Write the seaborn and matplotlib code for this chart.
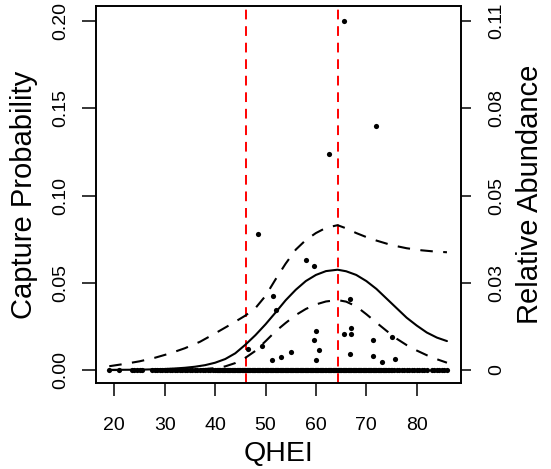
import matplotlib
matplotlib.use("Agg")
import matplotlib.pyplot as plt
import seaborn as sns
import pandas as pd

sns.set_style("ticks")
plt.rcParams['font.family'] = ['Liberation Sans', 'DejaVu Sans']
plt.rcParams['text.color'] = 'black'
plt.rcParams['axes.labelcolor'] = 'black'
plt.rcParams['xtick.color'] = 'black'
plt.rcParams['ytick.color'] = 'black'

# Observed sites with capture (QHEI, capture probability scale)
pos_qhei = [65.6, 72.0, 62.5, 48.6, 58.0, 59.6, 51.5, 66.7, 52.0, 60.1, 67.0, 65.5,
            67.0, 59.6, 71.4, 75.0, 46.5, 49.4, 60.6, 55.1, 53.0, 51.3, 60.1, 66.7,
            71.4, 73.1, 75.6]
pos_val = [0.200, 0.140, 0.124, 0.0781, 0.0632, 0.0596, 0.0424, 0.0409, 0.0346, 0.0225,
           0.0239, 0.0204, 0.0204, 0.0174, 0.0172, 0.0187, 0.0119, 0.0138, 0.0115, 0.0105,
           0.0074, 0.0057, 0.0057, 0.0090, 0.0080, 0.0044, 0.0063]

# Sites with no capture
zero_qhei = [19, 21, 23.5, 24, 24.5, 25, 25.5, 27.5, 28, 28.5, 29, 29.5, 30, 30.5, 31,
             31.5, 32, 32.5, 33, 33.5, 34, 34.5, 35, 35.5, 36, 36.5, 37, 37.5, 38, 38.5,
             39, 39.5, 40, 40.3, 40.5, 40.8, 41, 41.3, 41.5, 41.8, 42, 42.3, 42.5, 42.8,
             43, 43.3, 43.5, 43.8, 44, 44.3, 44.5, 44.8, 45, 45.3, 45.5, 45.8, 46, 46.3,
             46.5, 46.8, 47, 47.3, 47.5, 47.8, 48, 48.3, 48.5, 48.8, 49, 49.3, 49.5, 49.8,
             50, 50.3, 50.5, 50.8, 51, 51.3, 51.5, 51.8, 52, 52.3, 52.5, 52.8, 53, 53.3,
             53.5, 53.8, 54, 54.3, 54.5, 54.8, 55, 55.3, 55.5, 55.8, 56, 56.3, 56.5, 56.8,
             57, 57.3, 57.5, 57.8, 58, 58.3, 58.5, 58.8, 59, 59.3, 59.5, 59.8, 60, 60.3,
             60.5, 60.8, 61, 61.3, 61.5, 61.8, 62, 62.3, 62.5, 62.8, 63, 63.3, 63.5, 63.8,
             64, 64.3, 64.5, 64.8, 65, 65.3, 65.5, 65.8, 66, 66.3, 66.5, 66.8, 67, 67.3,
             67.5, 67.8, 68, 68.3, 68.5, 68.8, 69, 69.3, 69.5, 69.8, 70, 70.3, 70.5, 70.8,
             71, 71.3, 71.5, 71.8, 72, 72.3, 72.5, 72.8, 73, 73.3, 73.5, 73.8, 74, 74.3,
             74.5, 74.8, 75, 75.5, 76, 76.5, 77, 77.5, 78, 78.5, 79, 79.5, 80, 80.5, 81,
             81.5, 82, 83, 83.5, 84, 84.5, 85, 85.5, 86]

# Fitted curve and confidence bands
fit_x = [19, 25, 30, 32, 34, 36, 38, 40, 42, 44, 46, 48, 50, 52, 54, 56, 58, 60, 62,
         64.3, 66, 68, 70, 72, 74, 76, 78, 80, 82, 84, 86]
fit_y = [0.0001, 0.0002, 0.0006, 0.0009, 0.0013, 0.0019, 0.0028, 0.0042, 0.0063, 0.0096,
         0.0145, 0.0200, 0.0262, 0.0330, 0.0400, 0.0460, 0.0510, 0.0545, 0.0567, 0.0575,
         0.0566, 0.0545, 0.0510, 0.0465, 0.0410, 0.0355, 0.0300, 0.0255, 0.0215, 0.0186,
         0.0166]

up_x = [19, 22, 25, 28, 31, 34, 37, 40, 43, 46, 48, 50, 52, 54, 56, 58, 60, 62, 64.3,
        66, 68, 70, 72, 75, 78, 81, 84, 86]
up_y = [0.0022, 0.0035, 0.0050, 0.0070, 0.0095, 0.0125, 0.0162, 0.0210, 0.0260, 0.0312,
        0.0355, 0.0425, 0.0520, 0.0610, 0.0690, 0.0745, 0.0785, 0.0815, 0.0830, 0.0812,
        0.0785, 0.0762, 0.0742, 0.0716, 0.0698, 0.0686, 0.0678, 0.0675]

lo_x = [19, 30, 35, 38, 40, 42, 44, 46, 48, 50, 52, 54, 56, 58, 60, 62, 64.3, 66, 68,
        70, 72, 74, 76, 78, 80, 82, 84, 86]
lo_y = [0.0000, 0.0001, 0.0003, 0.0006, 0.0011, 0.0021, 0.0040, 0.0070, 0.0110, 0.0165,
        0.0222, 0.0270, 0.0315, 0.0350, 0.0376, 0.0393, 0.0401, 0.0392, 0.0365, 0.0320,
        0.0272, 0.0225, 0.0180, 0.0143, 0.0112, 0.0085, 0.0062, 0.0042]

vlines_x = [46.1, 64.3]

y_ticks = [0.0, 0.05, 0.10, 0.15, 0.20]
y_ticklabels = ["0.00", "0.05", "0.10", "0.15", "0.20"]
y2_ticklabels = ["0", "0.03", "0.05", "0.08", "0.11"]
x_ticks = [20, 30, 40, 50, 60, 70, 80]

pts = pd.DataFrame({"QHEI": zero_qhei + pos_qhei,
                    "val": [0.0] * len(zero_qhei) + pos_val})

fig = plt.figure(figsize=(5.51, 4.69), dpi=100)
ax = fig.add_axes([0.1737, 0.1827, 0.663, 0.8045])

for xv in vlines_x:
    ax.axvline(xv, color="#ff0000", lw=1.4, ls=(0, (5, 3.5)), zorder=1)

sns.lineplot(x=fit_x, y=fit_y, ax=ax, color="black", lw=1.5, zorder=3)
sns.lineplot(x=up_x, y=up_y, ax=ax, color="black", lw=1.5, zorder=3,
             linestyle=(0, (6, 5)))
sns.lineplot(x=lo_x, y=lo_y, ax=ax, color="black", lw=1.5, zorder=3,
             linestyle=(0, (6, 5)))
sns.scatterplot(data=pts, x="QHEI", y="val", ax=ax, color="black", s=14,
                edgecolor="black", linewidth=0, zorder=4)

ax.set_xlim(16.31, 88.79)
ax.set_ylim(-0.0076, 0.2086)
ax.set_xticks(x_ticks)
ax.set_xticklabels([str(v) for v in x_ticks], fontsize=14)
ax.set_yticks(y_ticks)
ax.set_yticklabels(y_ticklabels, fontsize=14, rotation=90, va="center")
ax.set_xlabel("QHEI", fontsize=20.5, labelpad=5)
ax.set_ylabel("Capture Probability", fontsize=21, labelpad=10)
ax.tick_params(axis="x", length=9.5, width=1.1, pad=15, color="black")
ax.tick_params(axis="y", length=10, width=1.1, pad=9, color="black")

ax2 = ax.twinx()
ax2.set_ylim(ax.get_ylim())
ax2.set_yticks(y_ticks)
ax2.set_yticklabels(y2_ticklabels, fontsize=14, rotation=90, va="center")
ax2.set_ylabel("Relative Abundance", fontsize=21, labelpad=8)
ax2.tick_params(axis="y", length=7.5, width=1.1, pad=12, color="black")

for a in (ax, ax2):
    for sp in a.spines.values():
        sp.set_visible(True)
        sp.set_linewidth(1.2)
        sp.set_color("black")

fig.savefig("out.png", dpi=100)
